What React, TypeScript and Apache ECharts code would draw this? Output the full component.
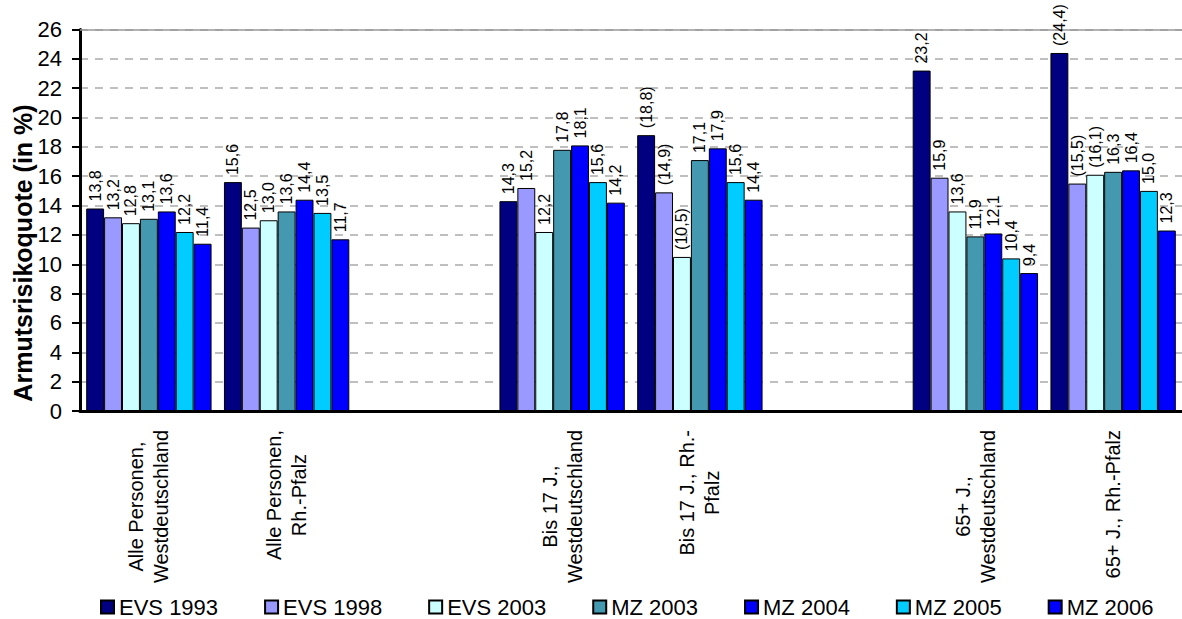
import React, { useEffect, useRef } from "react";
import * as echarts from "echarts";

const categories = [
  "Alle Personen,\nWestdeutschland",
  "Alle Personen,\nRh.-Pfalz",
  "",
  "Bis 17 J.,\nWestdeutschland",
  "Bis 17 J., Rh.-\nPfalz",
  "",
  "65+ J.,\nWestdeutschland",
  "65+ J., Rh.-Pfalz",
];

const seriesNames = ["EVS 1993", "EVS 1998", "EVS 2003", "MZ 2003", "MZ 2004", "MZ 2005", "MZ 2006"];

const evs1993 = [13.8, 15.6, null, 14.3, 18.8, null, 23.2, 24.4];
const evs1998 = [13.2, 12.5, null, 15.2, 14.9, null, 15.9, 15.5];
const evs2003 = [12.8, 13.0, null, 12.2, 10.5, null, 13.6, 16.1];
const mz2003 = [13.1, 13.6, null, 17.8, 17.1, null, 11.9, 16.3];
const mz2004 = [13.6, 14.4, null, 18.1, 17.9, null, 12.1, 16.4];
const mz2005 = [12.2, 13.5, null, 15.6, 15.6, null, 10.4, 15.0];
const mz2006 = [11.4, 11.7, null, 14.2, 14.4, null, 9.4, 12.3];

// category indices whose values are shown in parentheses, per series
const bracketed = [[4, 7], [4, 7], [4, 7], [], [], [], []];

const seriesValues = [evs1993, evs1998, evs2003, mz2003, mz2004, mz2005, mz2006];
const colors = ["#000080", "#9999FF", "#CCFFFF", "#4499B0", "#0000FF", "#00CCFF", "#0000FF"];

const yTicks = { min: 0, max: 26, interval: 2 };
const yTitle = "Armutsrisikoquote (in %)";

const FONT = "'Liberation Sans', Arial, sans-serif";

export default function App() {
  const ref = useRef<HTMLDivElement>(null);
  useEffect(() => {
    document.body.style.margin = "0";
    const chart = echarts.init(ref.current!, null, { renderer: "svg" });
    const option: any = {
      animation: false,
      textStyle: { fontFamily: FONT, color: "#000" },
      grid: { left: 80, top: 29.5, width: 1110, height: 381.5, containLabel: false },
      legend: {
        data: seriesNames,
        left: 100,
        top: 596,
        padding: 0,
        icon: "rect",
        itemWidth: 13,
        itemHeight: 13,
        itemGap: 46,
        textStyle: { fontSize: 22, lineHeight: 22, color: "#000", fontFamily: FONT },
      },
      xAxis: [
        {
          type: "category",
          data: categories,
          axisLine: { lineStyle: { color: "#000", width: 3 } },
          axisTick: { show: false },
          axisLabel: {
            interval: 0,
            rotate: 90,
            margin: 19,
            color: "#000",
            formatter: (v: string) =>
              v ? v.split("\n").map((l) => `{c|${l}}`).join("\n") : "",
            rich: {
              c: { align: "center", fontSize: 20, lineHeight: 25, fontFamily: FONT, color: "#000" },
            },
          },
        },
        {
          type: "category",
          data: categories,
          position: "top",
          axisLine: { onZero: false, lineStyle: { color: "#999", width: 1.5 } },
          axisTick: { show: false },
          axisLabel: { show: false },
        },
      ],
      yAxis: {
        type: "value",
        min: yTicks.min,
        max: yTicks.max,
        interval: yTicks.interval,
        axisLine: { show: true, lineStyle: { color: "#000", width: 3 } },
        axisTick: { show: true, length: 8, lineStyle: { color: "#000", width: 2 } },
        axisLabel: { fontSize: 22, color: "#000", margin: 18, fontFamily: FONT },
        splitLine: { show: true, lineStyle: { color: "#aaa", width: 1.5, type: [8, 7] } },
      },
      graphic: [
        {
          type: "text",
          x: 23,
          y: 253,
          rotation: Math.PI / 2,
          style: {
            text: yTitle,
            fontSize: 25,
            fontWeight: "bold",
            fontFamily: FONT,
            fill: "#000",
            align: "center",
            verticalAlign: "middle",
          },
        },
      ],
      series: seriesNames.map((name, si) => ({
        name,
        type: "bar",
        data: seriesValues[si],
        barGap: "0%",
        barCategoryGap: "9%",
        itemStyle: { color: colors[si], borderColor: "#000", borderWidth: 1 },
        label: {
          show: true,
          position: "top",
          rotate: 90,
          align: "left",
          verticalAlign: "middle",
          distance: 7,
          fontSize: 16,
          fontFamily: FONT,
          color: "#000",
          formatter: (p: any) => {
            if (p.value == null) return "";
            const s = Number(p.value).toFixed(1).replace(".", ",");
            return bracketed[si].includes(p.dataIndex) ? `(${s})` : s;
          },
        },
      })),
    };
    chart.setOption(option);
    return () => chart.dispose();
  }, []);
  return <div ref={ref} style={{ width: 1182, height: 619 }} />;
}
